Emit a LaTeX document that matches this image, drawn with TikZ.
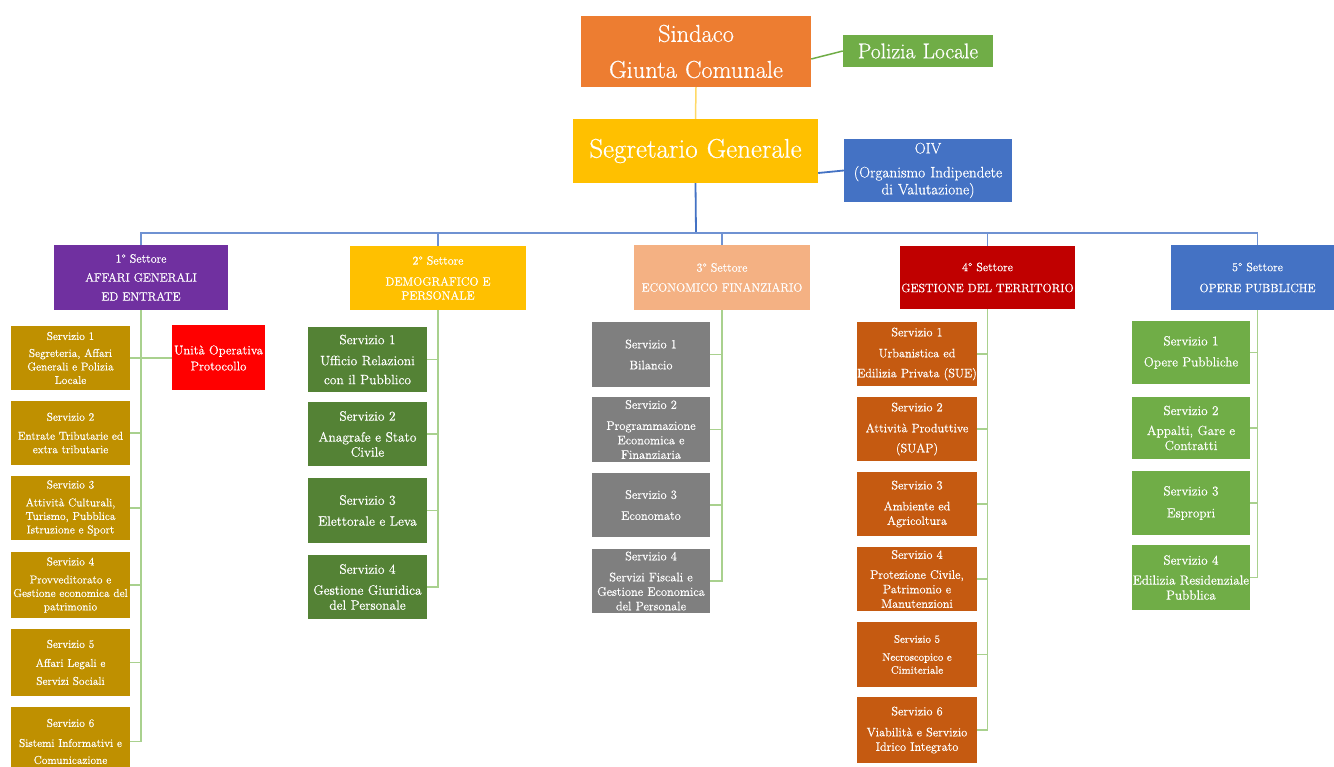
\documentclass[tikz,border=0pt]{standalone}
\usepackage{fontspec}
\setmainfont{Latin Modern Roman}[FakeBold=0.6]
\definecolor{cSind}{HTML}{ED7D31}
\definecolor{cPol}{HTML}{70AD47}
\definecolor{cSeg}{HTML}{FFC000}
\definecolor{cOiv}{HTML}{4472C4}
\definecolor{cS1}{HTML}{7030A0}
\definecolor{cS2}{HTML}{FFC000}
\definecolor{cS3}{HTML}{F4B183}
\definecolor{cS4}{HTML}{C00000}
\definecolor{cS5}{HTML}{4472C4}
\definecolor{cC1}{HTML}{BF9000}
\definecolor{cUo}{HTML}{FF0000}
\definecolor{cC2}{HTML}{548235}
\definecolor{cC3}{HTML}{7F7F7F}
\definecolor{cC4}{HTML}{C55A11}
\definecolor{cC5}{HTML}{70AD47}
\definecolor{lGreen}{HTML}{A9D18E}
\definecolor{lBus}{HTML}{6F92D2}
\definecolor{lYel}{HTML}{FFD966}
\tikzset{
  bx/.style={inner sep=0pt, text=white, align=center, anchor=center},
  sec/.style={bx, font=\fontsize{12}{14}\selectfont},
  col1/.style={bx, fill=cC1, text width=119pt, font=\fontsize{11.4}{13.5}\selectfont},
  col2/.style={bx, fill=cC2, text width=119pt, font=\fontsize{13.5}{15}\selectfont},
  col3/.style={bx, fill=cC3, text width=118pt, font=\fontsize{12.4}{14.5}\selectfont},
  col4/.style={bx, fill=cC4, text width=120pt, font=\fontsize{12.3}{14.5}\selectfont},
  col5/.style={bx, fill=cC5, text width=118pt, font=\fontsize{13.2}{15}\selectfont},
  gl/.style={draw=lGreen, line width=1.6pt},
  bl/.style={draw=cOiv, line width=1.8pt},
  bus/.style={draw=lBus, line width=1.5pt},
}
\begin{document}
\begin{tikzpicture}[x=1pt,y=-1pt]
\clip (0,0) rectangle (1334,767);
\fill[white] (0,0) rectangle (1334,767);

% top
\node[bx, fill=cSind, text width=230pt, minimum height=71pt, font=\fontsize{24.4}{36}\selectfont] (sind) at (696,51.5) {Sindaco\\Giunta Comunale};
\node[bx, fill=cPol, text width=150pt, minimum height=32pt, font=\fontsize{21.5}{22}\selectfont] (pol) at (918,51) {Polizia Locale};
\node[bx, fill=cSeg, text width=245pt, minimum height=64pt, font=\fontsize{27}{28}\selectfont] (seg) at (695.5,151) {Segretario Generale};
\node[bx, fill=cOiv, text width=168pt, minimum height=63pt, font=\fontsize{15.2}{17}\selectfont] (oiv) at (928,170.5) {OIV\\[7pt](Organismo Indipendete\\di Valutazione)};

% sectors
\node[sec, fill=cS1, text width=174pt, minimum height=65pt] (sec1) at (141,277.5) {1° Settore\\[5pt]AFFARI GENERALI\\[5pt]ED ENTRATE};
\node[sec, fill=cS2, text width=176pt, minimum height=64pt] (sec2) at (438,278) {2° Settore\\[7pt]DEMOGRAFICO E\\PERSONALE};
\node[sec, fill=cS3, text width=176pt, minimum height=65pt] (sec3) at (722,277.5) {3° Settore\\[6pt]ECONOMICO FINANZIARIO};
\node[sec, fill=cS4, text width=175pt, minimum height=63pt] (sec4) at (987.5,277.5) {4° Settore\\[7pt]GESTIONE DEL TERRITORIO};
\node[sec, fill=cS5, text width=173pt, minimum height=65pt] (sec5) at (1257.5,277.5) {5° Settore\\[7pt]OPERE PUBBLICHE};

% column 1
\node[col1, minimum height=64pt] (s11) at (70.5,358) {Servizio 1\\[3.5pt]Segreteria, Affari\\Generali e Polizia\\Locale};
\node[col1, minimum height=64pt] (s12) at (70.5,433) {Servizio 2\\[5.5pt]Entrate Tributarie ed\\extra tributarie};
\node[col1, minimum height=64pt] (s13) at (70.5,508) {Servizio 3\\[4.5pt]Attività Culturali,\\Turismo, Pubblica\\Istruzione e Sport};
\node[col1, minimum height=66pt] (s14) at (70.5,585) {Servizio 4\\[4.5pt]Provveditorato e\\Gestione economica del\\patrimonio};
\node[col1, minimum height=67pt] (s15) at (70.5,662.5) {Servizio 5\\[5.5pt]Affari Legali e\\[4.5pt]Servizi Sociali};
\node[col1, minimum height=69pt] (s16) at (70.5,741.5) {Servizio 6\\[6.5pt]Sistemi Informativi e\\[3.5pt]Comunicazione};
\node[bx, fill=cUo, text width=93pt, minimum height=65pt, font=\fontsize{12.7}{16}\selectfont] (uo) at (218.5,358) {Unità Operativa\\Protocollo};

% column 2
\node[col2, minimum height=65pt] (s21) at (367.5,359.5) {Servizio 1\\[6pt]Ufficio Relazioni\\[4pt]con il Pubblico};
\node[col2, minimum height=64pt] (s22) at (367.5,434) {Servizio 2\\[6pt]Anagrafe e Stato\\Civile};
\node[col2, minimum height=65pt] (s23) at (367.5,510.5) {Servizio 3\\[6pt]Elettorale e Leva};
\node[col2, minimum height=64pt] (s24) at (367.5,587) {Servizio 4\\[6pt]Gestione Giuridica\\del Personale};

% column 3
\node[col3, minimum height=65pt] (s31) at (651,354.5) {Servizio 1\\[6.5pt]Bilancio};
\node[col3, minimum height=65pt] (s32) at (651,429.5) {Servizio 2\\[6.5pt]Programmazione\\Economica e\\Finanziaria};
\node[col3, minimum height=64pt] (s33) at (651,505) {Servizio 3\\[6.5pt]Economato};
\node[col3, minimum height=64pt] (s34) at (651,581) {Servizio 4\\[6.5pt]Servizi Fiscali e\\Gestione Economica\\del Personale};

% column 4
\node[col4, minimum height=64pt] (s41) at (917,354) {Servizio 1\\[6.5pt]Urbanistica ed\\[5.5pt]Edilizia Privata (SUE)};
\node[col4, minimum height=64pt] (s42) at (917,429) {Servizio 2\\[6.5pt]Attività Produttive\\[5.5pt](SUAP)};
\node[col4, minimum height=64pt] (s43) at (917,504) {Servizio 3\\[6.5pt]Ambiente ed\\Agricoltura};
\node[col4, minimum height=64pt] (s44) at (917,579) {Servizio 4\\[5.5pt]Protezione Civile,\\Patrimonio e\\Manutenzioni};
\node[col4, minimum height=65pt, font=\fontsize{10.8}{13}\selectfont] (s45) at (917,654.5) {Servizio 5\\[5pt]Necroscopico e\\Cimiteriale};
\node[col4, minimum height=66pt] (s46) at (917,730) {Servizio 6\\[6.5pt]Viabilità e Servizio\\Idrico Integrato};

% column 5
\node[col5, minimum height=63pt] (s51) at (1191,352.5) {Servizio 1\\[6pt]Opere Pubbliche};
\node[col5, minimum height=62pt] (s52) at (1191,428) {Servizio 2\\[5pt]Appalti, Gare e\\Contratti};
\node[col5, minimum height=64pt] (s53) at (1191,503) {Servizio 3\\[7pt]Espropri};
\node[col5, minimum height=65pt] (s54) at (1191,577.5) {Servizio 4\\[5pt]Edilizia Residenziale\\Pubblica};

% connectors top
\draw[draw=lYel, line width=1.5pt] (sind.south) -- (seg.north);
\draw[draw=cPol, line width=1.5pt] ([yshift=-7.5pt]sind.east) -- (pol.west);
\draw[bl] ([yshift=-22pt]seg.east) -- (oiv.west);
\coordinate (bus) at (696,233);
\draw[bl] (seg.south) -- (bus);
\draw[bus] (sec1.north) -- (sec1.north |- bus) -- (sec5.north |- bus) -- (sec5.north);
\foreach \n in {sec2,sec3,sec4} \draw[bus] (\n.north) -- (\n.north |- bus);

% column trees
\draw[gl] (sec1.south) |- (s16.east);
\foreach \n in {s12,s13,s14,s15} \draw[gl] (\n.east) -- (\n.east -| sec1.south);
\draw[gl] (s11.east) -- (uo.west);

\draw[gl] (sec2.south) |- (s24.east);
\foreach \n in {s21,s22,s23} \draw[gl] (\n.east) -- (\n.east -| sec2.south);

\draw[gl] (sec3.south) |- (s34.east);
\foreach \n in {s31,s32,s33} \draw[gl] (\n.east) -- (\n.east -| sec3.south);

\draw[gl] (sec4.south) |- (s46.east);
\foreach \n in {s41,s42,s43,s44,s45} \draw[gl] (\n.east) -- (\n.east -| sec4.south);

\draw[gl] (sec5.south) |- (s54.east);
\foreach \n in {s51,s52,s53} \draw[gl] (\n.east) -- (\n.east -| sec5.south);
\end{tikzpicture}
\end{document}
